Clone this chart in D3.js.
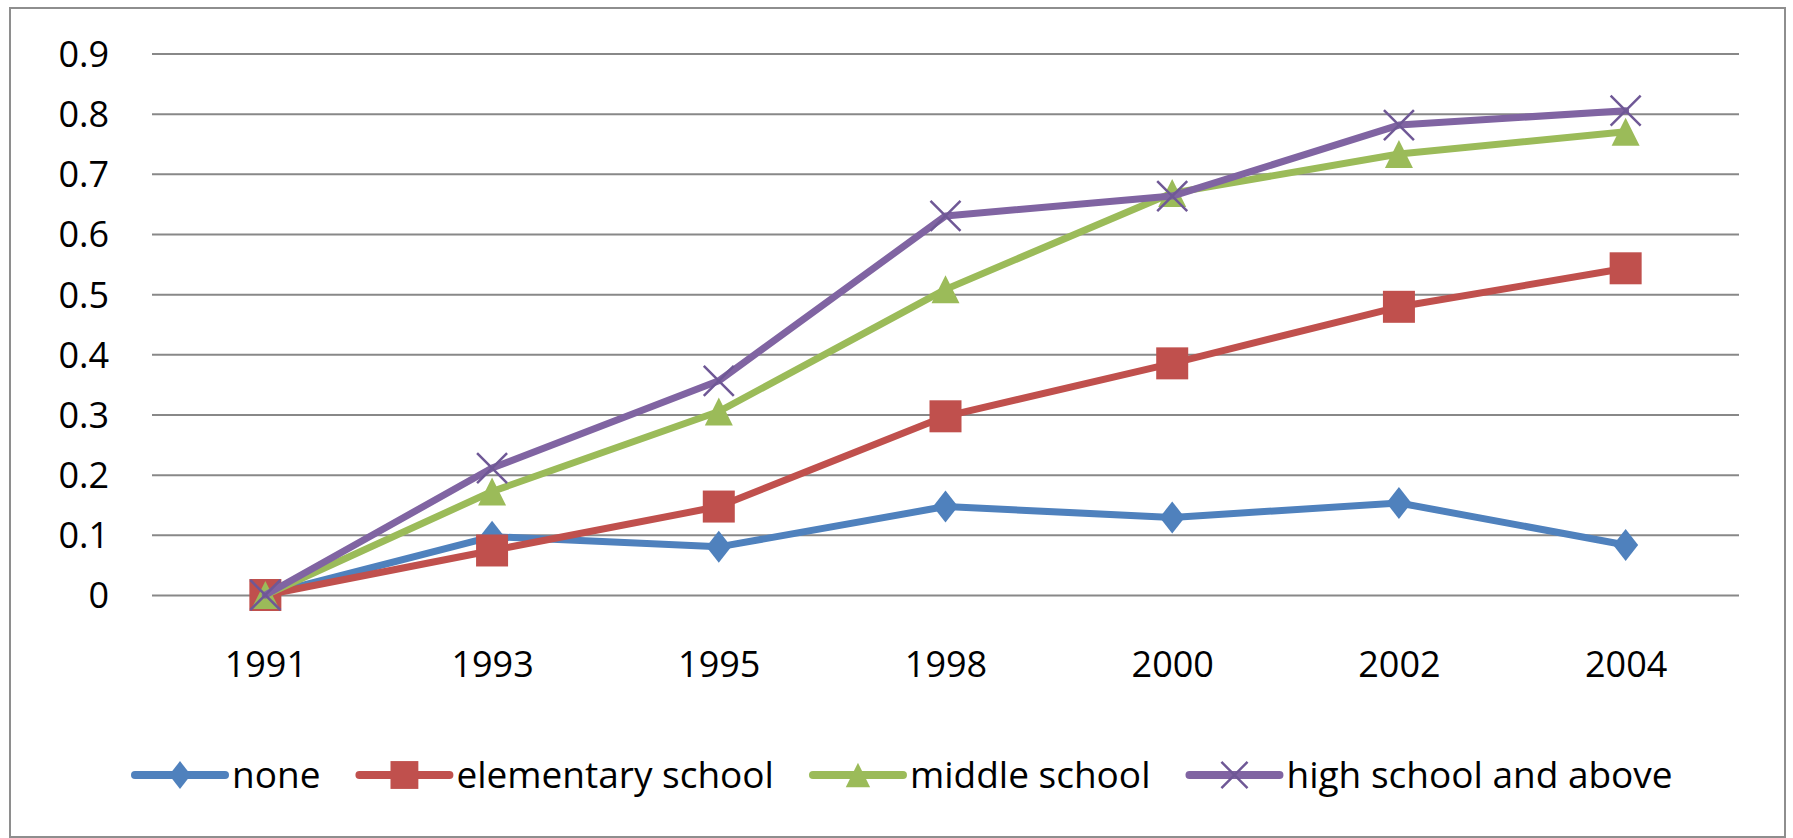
<!DOCTYPE html>
<html>
<head>
<meta charset="utf-8">
<script src="https://cdn.jsdelivr.net/npm/d3@7"></script>
<style>
  html, body { margin: 0; padding: 0; background: #ffffff; }
  svg { display: block; }
  text { font-family: "Open Sans", "DejaVu Sans", sans-serif; fill: #000; }
</style>
</head>
<body>
<svg id="chart" width="1793" height="838"></svg>
<script>
// ---- data ----
const years = ["1991", "1993", "1995", "1998", "2000", "2002", "2004"];
const yTicks = [0, 0.1, 0.2, 0.3, 0.4, 0.5, 0.6, 0.7, 0.8, 0.9];
const seriesNames = ["none", "elementary school", "middle school", "high school and above"];
const noneValues = [0, 0.097, 0.080, 0.147, 0.129, 0.153, 0.083];
const elementaryValues = [0, 0.074, 0.147, 0.297, 0.385, 0.479, 0.543];
const middleValues = [0, 0.172, 0.305, 0.508, 0.668, 0.733, 0.770];
const highValues = [0, 0.211, 0.356, 0.630, 0.663, 0.781, 0.805];
const seriesColors = ["#4F81BD", "#C0504D", "#9BBB59", "#8064A2"];
const markerTypes = ["diamond", "square", "triangle", "x"];

const series = seriesNames.map((name, i) => ({
  name,
  values: [noneValues, elementaryValues, middleValues, highValues][i],
  color: seriesColors[i],
  marker: markerTypes[i]
}));

// ---- layout ----
const svg = d3.select("#chart");
const W = 1793, H = 838;
const plot = { left: 152, right: 1739, top: 53.5, bottom: 595 };

svg.append("rect").attr("width", W).attr("height", H).attr("fill", "#fff");
svg.append("rect")
  .attr("x", 10).attr("y", 8).attr("width", 1775).attr("height", 829)
  .attr("fill", "none").attr("stroke", "#8e8e8e").attr("stroke-width", 2);

const x = d3.scalePoint().domain(years).range([plot.left, plot.right]).padding(0.5);
const y = d3.scaleLinear().domain([0, 0.9]).range([plot.bottom, plot.top]);

// gridlines + y labels
const yAxis = d3.axisLeft(y).tickValues(yTicks)
  .tickSize(-(plot.right - plot.left)).tickPadding(43)
  .tickFormat(d => d === 0 ? "0" : d3.format(".1f")(d));
const gy = svg.append("g").attr("transform", `translate(${plot.left},0)`).call(yAxis);
gy.select(".domain").remove();
gy.selectAll(".tick line").attr("stroke", "#888").attr("stroke-width", 2);
gy.selectAll(".tick text").attr("font-size", 36).attr("font-family", "Open Sans")
  .attr("fill", "#000").attr("dy", "0.36em");

// x labels
const xAxis = d3.axisBottom(x).tickSize(0).tickPadding(0);
const gx = svg.append("g").attr("transform", `translate(0,${plot.bottom})`).call(xAxis);
gx.select(".domain").remove();
gx.selectAll(".tick text").attr("font-size", 36).attr("font-family", "Open Sans")
  .attr("fill", "#000").attr("dy", null).attr("y", 82);

// marker drawing
function drawMarker(g, type, color, cx, cy, s) {
  if (type === "diamond") {
    const w = 12.5 * s, h = 16 * s;
    g.append("path").attr("d", `M${cx},${cy - h}L${cx + w},${cy}L${cx},${cy + h}L${cx - w},${cy}Z`)
      .attr("fill", color);
  } else if (type === "square") {
    const a = 16 * s;
    g.append("rect").attr("x", cx - a).attr("y", cy - a).attr("width", 2 * a).attr("height", 2 * a)
      .attr("fill", color);
  } else if (type === "triangle") {
    const w = 14 * s, h = 14 * s;
    g.append("path").attr("d", `M${cx},${cy - h}L${cx + w},${cy + h}L${cx - w},${cy + h}Z`)
      .attr("fill", color);
  } else if (type === "x") {
    const a = 15 * s;
    g.append("path").attr("d", `M${cx - a},${cy - a}L${cx + a},${cy + a}M${cx - a},${cy + a}L${cx + a},${cy - a}`)
      .attr("stroke", "#6f5896").attr("stroke-width", 2.5).attr("fill", "none");
  }
}

const line = d3.line().x((d, i) => x(years[i])).y(d => y(d));

series.forEach(s => {
  const g = svg.append("g");
  g.append("path").datum(s.values).attr("d", line)
    .attr("fill", "none").attr("stroke", s.color).attr("stroke-width", 7)
    .attr("stroke-linejoin", "round").attr("stroke-linecap", "round");
  s.values.forEach((v, i) => drawMarker(g, s.marker, s.color, x(years[i]), y(v), 1));
});

// legend
const legendY = 775;
let lx = 135;
series.forEach(s => {
  const g = svg.append("g");
  g.append("line").attr("x1", lx).attr("x2", lx + 90).attr("y1", legendY).attr("y2", legendY)
    .attr("stroke", s.color).attr("stroke-width", 8).attr("stroke-linecap", "round");
  drawMarker(g, s.marker, s.color, lx + 45, legendY, 0.87);
  const t = g.append("text").attr("x", lx + 97).attr("y", legendY + 13)
    .attr("font-size", 37).attr("font-family", "Open Sans").text(s.name);
  lx = lx + 97 + t.node().getComputedTextLength() + 39;
});
</script>
</body>
</html>
